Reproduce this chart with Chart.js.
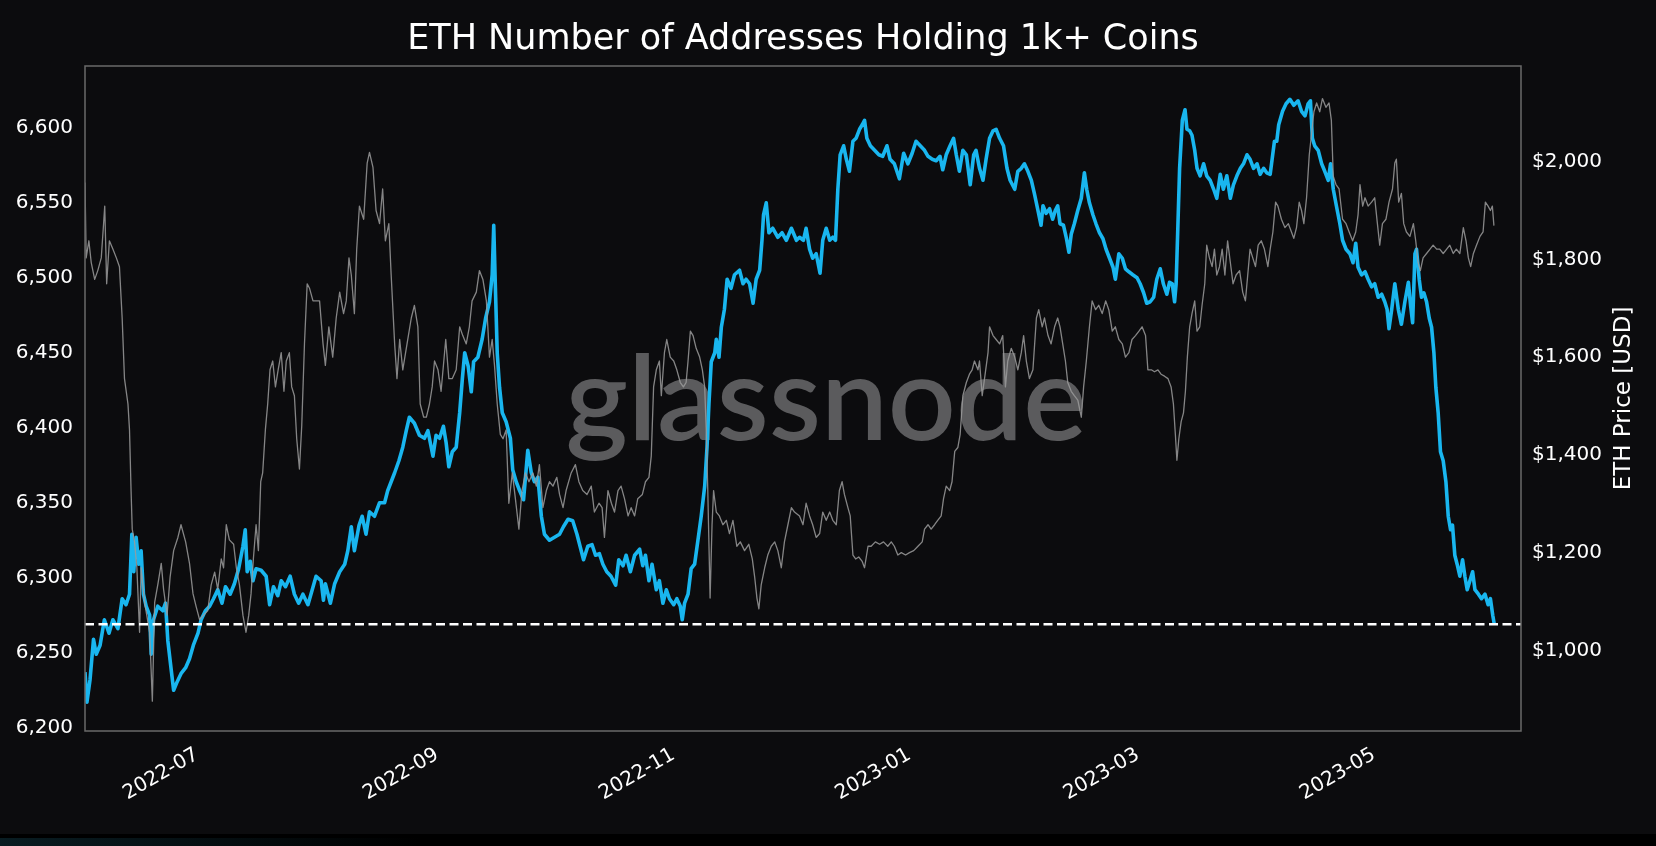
<!DOCTYPE html>
<html>
<head>
<meta charset="utf-8">
<title>ETH Number of Addresses Holding 1k+ Coins</title>
<script src="https://cdn.jsdelivr.net/npm/chart.js@4.4.1/dist/chart.umd.min.js"></script>
<style>
    html, body { margin: 0; padding: 0; background: #000; }
    canvas { display: block; }
</style>
</head>
<body>
<canvas id="addrChart" width="1656" height="846"></canvas>
<script>
var chartTitle = 'ETH Number of Addresses Holding 1k+ Coins';
var priceAxisTitle = 'ETH Price [USD]';
var watermarkText = 'glassnode';

// x values are days counted from seriesStart
var seriesStart = '2022-06-02';
var axisEnd = '2023-06-08';
var xTickLabels = ['2022-07', '2022-09', '2022-11', '2023-01', '2023-03', '2023-05'];
var countTicks = [6200, 6250, 6300, 6350, 6400, 6450, 6500, 6550, 6600];
var priceTicks = [1000, 1200, 1400, 1600, 1800, 2000];
var countRange = [6197.8, 6641.2];
var priceRange = [835, 2195.6];
var latestCount = [6269];

var addrDays = [
    0, 0.5, 1.3, 2.2, 2.9, 3.9, 5.0, 6.2, 7.2, 8.5,
    9.6, 10.6, 11.5, 12.1, 12.6, 13.2, 13.9, 14.5, 15.1, 15.8,
    16.7, 17.1, 17.7, 18.8, 20.1, 20.8, 21.4, 22.3, 22.9, 23.7,
    24.8, 26.0, 27.0, 28.0, 29.2, 30.0, 31.1, 32.2, 33.2, 34.3,
    35.4, 36.3, 37.5, 38.6, 39.7, 40.8, 41.4, 41.9, 42.7, 43.4,
    44.2, 45.5, 46.8, 47.7, 48.7, 49.8, 50.7, 51.8, 53.0, 54.1,
    55.2, 56.3, 57.6, 58.6, 59.7,
    61.0, 61.6, 62.1, 63.4, 64.5, 65.8, 67.1, 67.9, 68.8, 69.6,
    70.8, 71.6, 72.6, 73.5, 74.8, 76.1, 77.4, 78.2, 79.1, 80.0,
    81.1, 82.1, 83.0, 83.8, 85.1, 86.4, 87.7, 88.6, 89.9, 90.7,
    91.6, 92.6, 93.3, 94.0, 94.9, 95.9, 96.8, 97.5, 98.1, 99.0,
    99.8, 100.4, 101.5, 102.6, 103.5, 104.5, 105.2, 105.6, 106.0, 106.5,
    107.1, 107.8, 108.8, 109.9, 110.5, 111.4, 112.3, 113.3, 114.4, 115.3,
    116.1, 117.0, 117.9, 118.7, 120.0, 121.3,
    122.6, 123.6, 124.8, 126.0, 127.1, 127.9, 128.8, 129.9, 131.0, 131.9,
    132.9, 133.8, 134.8, 135.9, 137.1, 137.9, 139.0, 139.8, 140.9, 142.0,
    143.3, 144.1, 144.8, 145.7, 146.5, 147.6, 148.4, 149.3, 150.2, 151.0,
    152.1, 152.9, 153.8, 154.3, 154.9, 155.8, 156.6, 157.5, 158.3, 159.2,
    160.1, 160.7, 161.2, 161.8, 162.7, 163.1, 163.8, 164.4, 165.2, 165.9,
    166.9, 167.8, 169.1, 170.0, 170.8, 171.7, 172.6, 173.4, 174.3, 174.9,
    175.3, 176.0, 176.7, 177.7, 179.0, 180.1, 181.2, 182.5, 183.8,
    184.6, 185.6, 186.3, 187.2, 188.0, 188.9, 189.9, 190.6, 191.5, 192.4,
    193.2, 193.9, 194.5, 195.1, 196.0, 196.7, 197.5, 198.4, 199.2, 200.1,
    200.8, 201.4, 202.0, 202.9, 204.0, 205.1, 206.1, 207.2, 208.0, 209.1,
    210.4, 211.5, 212.6, 213.7, 214.7, 215.8, 216.9, 217.8, 218.9, 219.9,
    220.9, 221.6, 222.5, 223.5, 224.4, 225.1, 225.9, 226.8, 227.7, 228.7,
    229.6, 230.2, 231.1, 232.0, 232.8, 233.7, 234.6, 235.4, 236.3, 237.3,
    238.2, 239.0, 240.2, 241.0, 241.9, 242.7, 243.6, 244.5, 245.3, 246.2,
    247.0,
    247.5, 248.3, 249.2, 250.0, 250.7, 251.3, 251.9, 252.8, 253.5, 254.2,
    254.8, 255.6, 256.5, 257.4, 258.2, 258.8, 259.5, 260.4, 261.2, 262.1,
    263.0, 263.8, 264.7, 265.6, 266.2, 267.1, 268.0, 268.8, 269.7, 270.7,
    271.8, 272.6, 273.5, 274.3, 275.2, 276.1, 276.9, 277.8, 278.6, 279.5,
    280.2, 280.9, 281.5, 281.9, 282.3, 282.8, 283.5, 284.2, 284.7, 285.4,
    286.0, 286.7, 287.3, 288.1, 289.0, 289.8, 290.7, 291.6, 292.4, 293.3,
    294.1, 295.0, 295.9, 296.7, 297.6, 298.5, 299.3, 300.2, 301.0, 301.9,
    302.8, 303.6, 304.5, 305.3, 306.2, 306.7, 307.3, 307.9, 308.4,
    309.4, 310.3, 311.3, 312.3, 313.4, 314.3, 315.2, 316.0, 316.6, 317.1,
    317.7, 318.6, 319.5, 320.3, 321.2, 321.8, 322.5, 323.3, 324.2, 324.9,
    325.8, 326.8, 327.6, 328.3, 328.9, 329.8, 330.7, 331.5, 332.4, 333.2,
    334.1, 335.0, 335.8, 336.4, 336.9, 337.6, 338.4, 339.3, 340.1, 341.0,
    341.9, 342.5, 343.0, 343.6, 344.0, 344.7, 345.3, 345.9, 346.6, 347.3,
    347.9, 348.5, 349.0, 349.6, 350.2, 350.9, 351.6, 352.2, 352.8, 353.3,
    353.9, 354.5, 355.2, 355.9, 356.5, 357.1, 357.8, 358.5, 359.1, 360.0,
    360.8, 361.7, 362.5, 363.1, 363.7, 364.1
];
var addrCount = [
    6237, 6217, 6232, 6259, 6249, 6255, 6272, 6263, 6272, 6266,
    6286, 6282, 6289, 6329, 6304, 6327, 6309, 6318, 6289, 6281,
    6275, 6249, 6272, 6281, 6278, 6283, 6258, 6238, 6225, 6230,
    6236, 6240, 6246, 6255, 6263, 6272, 6278, 6281, 6286, 6292,
    6283, 6294, 6289, 6296, 6306, 6321, 6332, 6304, 6311, 6298,
    6306, 6305, 6301, 6282, 6294, 6288, 6298, 6294, 6301, 6289,
    6283, 6289, 6282, 6291, 6301,
    6298, 6285, 6296, 6283, 6296, 6304, 6309, 6318, 6334, 6318,
    6335, 6341, 6329, 6344, 6341, 6350, 6350, 6358, 6364, 6370,
    6378, 6387, 6398, 6407, 6403, 6395, 6393, 6398, 6381, 6395,
    6393, 6401, 6390, 6374, 6384, 6387, 6410, 6433, 6450, 6441,
    6424, 6444, 6447, 6459, 6473, 6484, 6502, 6535, 6496, 6450,
    6427, 6410, 6404, 6393, 6372, 6364, 6358, 6352, 6385, 6370,
    6364, 6367, 6341, 6329, 6325, 6327,
    6329, 6334, 6339, 6338, 6329, 6321, 6312, 6321, 6322, 6315,
    6316, 6309, 6304, 6301, 6295, 6312, 6308, 6315, 6304, 6315,
    6319, 6308, 6315, 6298, 6309, 6292, 6298, 6283, 6292, 6286,
    6282, 6286, 6281, 6272, 6283, 6289, 6306, 6309, 6324, 6341,
    6361, 6387, 6416, 6444, 6450, 6459, 6447, 6467, 6479, 6499,
    6493, 6502, 6505, 6496, 6499, 6496, 6483, 6499, 6505, 6525,
    6542, 6550, 6530, 6533, 6527, 6530, 6525, 6533, 6525,
    6527, 6525, 6533, 6519, 6513, 6516, 6503, 6525, 6533, 6525,
    6527, 6525, 6559, 6582, 6588, 6579, 6571, 6591, 6593, 6599,
    6602, 6605, 6593, 6588, 6585, 6582, 6581, 6588, 6579, 6576,
    6566, 6583, 6576, 6583, 6591, 6588, 6585, 6581, 6579, 6578,
    6581, 6572, 6582, 6588, 6593, 6582, 6571, 6585, 6582, 6562,
    6582, 6585, 6573, 6565, 6579, 6593, 6598, 6599, 6593, 6588,
    6573, 6565, 6559, 6571, 6573, 6576, 6571, 6565, 6556, 6545,
    6535,
    6548, 6543, 6546, 6539, 6545, 6548, 6536, 6535, 6527, 6517,
    6529, 6536, 6545, 6553, 6570, 6559, 6550, 6542, 6536, 6530,
    6526, 6519, 6513, 6507, 6499, 6516, 6513, 6506, 6504, 6502,
    6500, 6496, 6490, 6483, 6484, 6487, 6499, 6506, 6496, 6489,
    6497, 6496, 6484, 6496, 6530, 6573, 6605, 6612, 6599, 6598,
    6595, 6585, 6573, 6568, 6576, 6568, 6565, 6559, 6553, 6569,
    6559, 6568, 6553, 6562, 6568, 6573, 6576, 6582, 6579, 6573,
    6576, 6569, 6573, 6570, 6569, 6579, 6591, 6591, 6602,
    6611, 6616, 6619, 6615, 6618, 6611, 6608, 6616, 6618, 6593,
    6588, 6585, 6576, 6571, 6565, 6576, 6559, 6548, 6536, 6525,
    6519, 6516, 6510, 6523, 6507, 6502, 6504, 6499, 6494, 6496,
    6487, 6489, 6484, 6479, 6466, 6479, 6496, 6479, 6469, 6484,
    6497, 6481, 6470, 6516, 6519, 6499, 6487, 6490, 6484, 6473,
    6467, 6450, 6427, 6410, 6384, 6378, 6364, 6341, 6332, 6335,
    6315, 6309, 6301, 6312, 6301, 6292, 6298, 6304, 6292, 6289,
    6286, 6289, 6282, 6286, 6275, 6269
];

var priceDays = [
    0, 0.3, 1.0, 1.6, 2.5, 3.3, 4.2, 4.8, 5.1, 5.6,
    6.3, 7.2, 8.1, 8.9, 9.6, 10.2, 11.1, 11.5, 11.9, 12.2,
    12.8, 13.4, 14.1, 14.5, 15.4, 16.7, 17.4, 18.0, 18.8, 19.7,
    20.3, 21.2, 22.0, 22.9, 24.0, 24.8, 26.0, 27.0, 27.9, 28.7,
    29.6, 30.6, 31.7, 32.6, 33.5, 34.3, 35.2, 35.8, 36.5, 37.3,
    38.4, 39.1, 39.9, 40.8, 41.6, 42.3, 42.9, 43.5, 44.2, 44.8,
    45.4, 45.9, 46.6, 47.2, 47.8, 48.5, 49.2, 49.9, 50.7, 51.4,
    52.0, 52.8, 53.4, 54.1, 54.7, 55.4, 56.0, 56.7, 57.4, 58.0,
    58.9, 59.7,
    60.6, 61.5, 62.1, 63.0, 64.0, 64.9, 65.8, 66.8, 67.5, 68.2,
    68.8, 69.6, 70.2, 70.9, 72.0, 72.9, 73.5, 74.4, 75.2, 76.1,
    76.9, 77.6, 78.5, 79.1, 80.0, 80.6, 81.3, 82.1, 83.2, 84.3,
    85.1, 86.0, 86.6, 87.5, 88.2, 89.0, 89.7, 90.3, 91.2, 92.0,
    93.2, 94.0, 94.9, 95.9, 96.8, 97.6, 98.5, 99.3, 100.0, 101.1,
    101.9, 102.8, 103.7, 104.5, 105.2, 105.8, 106.5, 107.3, 108.0, 108.8,
    109.5, 110.4, 111.2, 112.1, 112.9, 113.8, 114.7, 115.7, 116.6, 117.4,
    118.3, 119.2, 120.0, 120.9, 121.9,
    122.6, 123.5, 124.3, 125.6, 126.7, 127.6, 128.6, 129.7, 130.8, 131.6,
    132.8, 133.6, 134.2, 135.1, 136.0, 136.8, 137.7, 138.5, 139.4, 140.3,
    141.1, 142.0, 142.8, 144.0, 144.8, 145.7, 146.3, 146.9, 147.6, 148.4,
    148.9, 149.7, 150.3, 151.2, 152.1, 152.9, 153.8, 154.6, 155.3, 155.8,
    156.4, 157.1, 157.9, 158.8, 159.5, 160.1, 160.5, 160.9, 161.5, 162.0,
    162.4, 163.1, 163.9, 164.8, 165.7, 166.5, 167.4, 168.4, 169.3, 170.4,
    171.5, 172.4, 173.0, 173.6, 174.1, 174.7, 175.6, 176.4, 177.3, 178.2,
    179.0, 179.9, 180.7, 181.6, 182.5, 183.3,
    184.6, 185.5, 186.3, 187.2, 188.0, 188.9, 189.8, 190.6, 191.5, 192.4,
    193.2, 194.1, 194.9, 195.6, 196.2, 197.1, 197.7, 198.4, 199.1, 199.9,
    200.8, 201.4, 202.3, 203.1, 204.2, 205.3, 206.3, 207.4, 208.3, 209.1,
    210.0, 210.9, 212.0, 213.0, 214.1, 215.2, 216.3, 216.9, 217.8, 218.6,
    219.5, 220.3, 221.2, 221.8, 222.5, 223.4, 224.0, 224.7, 225.5, 226.1,
    226.8, 227.7, 228.5, 229.2, 229.8, 230.7, 231.1, 231.8, 232.4, 233.3,
    233.7, 234.6, 235.4, 236.3, 237.1, 237.8, 238.4, 239.3, 240.2, 241.0,
    241.9, 242.5, 243.2, 244.0, 244.9, 245.8, 246.4,
    247.3, 247.9, 248.8, 249.6, 250.5, 251.3, 251.9, 252.6, 253.3, 253.9,
    254.8, 255.6, 256.5, 257.4, 258.0, 258.7, 259.5, 260.2, 261.1, 261.9,
    262.8, 263.7, 264.5, 265.4, 266.2, 267.1, 268.0, 268.8, 269.7, 270.5,
    271.4, 272.3, 273.1, 274.0, 274.6, 275.5, 276.3, 277.2, 278.0, 278.9,
    279.8, 280.6, 281.2, 281.7, 282.1, 282.6, 283.2, 283.8, 284.3, 284.8,
    285.4, 286.0, 286.7, 287.3, 288.0, 288.6, 289.3, 289.8, 290.5, 291.2,
    291.8, 292.4, 293.1, 293.8, 294.5, 295.2, 295.9, 296.6, 297.4, 298.3,
    299.1, 299.8, 300.4, 301.0, 301.7, 302.4, 303.1, 303.9, 304.7, 305.6,
    306.2, 306.9, 307.6, 308.2,
    309.1, 310.0, 310.9, 311.7, 312.3, 313.0, 313.7, 314.3, 314.9, 315.6,
    316.3, 316.9, 317.5, 318.2, 319.0, 319.7, 320.6, 321.4, 322.0, 322.5,
    323.2, 324.0, 324.9, 325.8, 326.6, 327.5, 328.3, 328.9, 329.4, 330.1,
    330.7, 331.5, 332.4, 333.2, 333.9, 334.5, 335.2, 336.1, 336.9, 337.8,
    338.4, 338.8, 339.4, 340.1, 340.7, 341.4, 342.3, 343.2, 343.8, 344.4,
    345.0, 345.7, 346.6, 347.5, 348.3, 349.2, 350.0, 350.9, 351.8, 352.6,
    353.5, 354.3, 355.2, 356.1, 356.8, 357.4, 358.0, 358.7, 359.5, 360.4,
    361.2, 361.8, 362.5, 363.1, 363.6, 364.0
];
var priceUsd = [
    1957, 1803, 1838, 1794, 1759, 1777, 1803, 1873, 1909, 1750,
    1838, 1821, 1803, 1785, 1680, 1556, 1504, 1451, 1327, 1248,
    1222, 1169, 1037, 1169, 1098, 1037, 896, 1098, 1134, 1178,
    1125, 1072, 1151, 1204, 1231, 1257, 1222, 1178, 1116, 1090,
    1063, 1072, 1081, 1134, 1160, 1125, 1187, 1169, 1257, 1226,
    1217, 1169, 1134, 1072, 1037, 1072, 1116, 1187, 1257, 1204,
    1345, 1363, 1451, 1504, 1574, 1592, 1539, 1574, 1609, 1530,
    1592, 1609, 1539, 1521, 1433, 1371, 1460, 1627, 1750, 1741,
    1715, 1715,
    1715, 1627, 1583, 1662, 1600, 1680, 1733, 1689, 1715, 1803,
    1768, 1689, 1821, 1909, 1882, 1997, 2019, 1988, 1900, 1873,
    1944, 1838, 1873, 1768, 1627, 1556, 1636, 1574, 1627, 1680,
    1706, 1662, 1504, 1477, 1477, 1504, 1539, 1592, 1574, 1530,
    1636, 1556, 1556, 1574, 1662, 1644, 1627, 1662, 1715, 1733,
    1777, 1759, 1715, 1600, 1636, 1583, 1504, 1442, 1433, 1451,
    1301, 1363, 1310, 1248, 1327, 1363, 1345, 1363, 1336, 1380,
    1292, 1327, 1345, 1336, 1354,
    1319, 1292, 1327, 1363, 1380, 1345, 1327, 1319, 1336, 1283,
    1301, 1292, 1231, 1327, 1301, 1283, 1327, 1336, 1310, 1275,
    1292, 1275, 1310, 1319, 1345, 1354, 1398, 1539, 1574, 1592,
    1521, 1609, 1636, 1600, 1592, 1574, 1548, 1539, 1548, 1592,
    1653, 1644, 1618, 1600, 1574, 1539, 1451, 1327, 1107, 1257,
    1327, 1283, 1275, 1257, 1266, 1239, 1266, 1213, 1222, 1204,
    1217, 1187, 1151, 1107, 1085, 1134, 1169, 1195, 1213, 1222,
    1204, 1169, 1222, 1257, 1292, 1283,
    1275, 1257, 1301, 1275, 1257, 1231, 1239, 1283, 1266, 1283,
    1266, 1257, 1327, 1345, 1319, 1292, 1275, 1195, 1187, 1191,
    1182, 1169, 1213, 1213, 1222, 1217, 1222, 1213, 1222, 1213,
    1195, 1200, 1195, 1200, 1204, 1213, 1222, 1248, 1257, 1248,
    1257, 1266, 1275, 1310, 1336, 1327, 1345, 1407, 1415, 1442,
    1521, 1548, 1565, 1574, 1592, 1574, 1592, 1521, 1556, 1609,
    1662, 1644, 1636, 1627, 1644, 1539, 1592, 1618, 1600, 1574,
    1609, 1644, 1592, 1556, 1574, 1680, 1697,
    1662, 1680, 1644, 1627, 1662, 1680, 1662, 1627, 1592, 1548,
    1530, 1521, 1512, 1477, 1539, 1592, 1662, 1715, 1697, 1706,
    1689, 1715, 1697, 1653, 1662, 1636, 1627, 1600, 1609, 1636,
    1644, 1653, 1662, 1644, 1574, 1574, 1570, 1574, 1565, 1561,
    1556, 1539, 1504, 1442, 1389, 1433, 1468, 1486, 1530, 1600,
    1662, 1689, 1715, 1653, 1662, 1706, 1750, 1829, 1803, 1785,
    1821, 1768, 1785, 1821, 1768, 1838, 1794, 1750, 1768, 1777,
    1733, 1715, 1768, 1821, 1803, 1785, 1829, 1838, 1821, 1785,
    1821, 1856, 1917, 1909,
    1882, 1865, 1873, 1856, 1843, 1865, 1917, 1900, 1873, 1926,
    2014, 2058, 2102, 2120, 2102, 2129, 2111, 2120, 2085, 1970,
    1953, 1944, 1882, 1873, 1856, 1838, 1856, 1891, 1953, 1909,
    1926, 1909, 1917, 1926, 1873, 1829, 1873, 1882, 1917, 1944,
    1997, 2005, 1917, 1935, 1873, 1856, 1847, 1873, 1838, 1794,
    1777, 1803, 1812, 1821, 1829, 1821, 1821, 1812, 1821, 1829,
    1812, 1821, 1812, 1865, 1838, 1803, 1785, 1812, 1829, 1847,
    1856, 1917, 1909, 1900, 1909, 1869
];

(function () {
    var DAY = 86400000;
    var FONT = '"DejaVu Sans", sans-serif';

    function dayOffset(iso) {
        var p = iso.split('-');
        var t = Date.UTC(+p[0], +p[1] - 1, p[2] ? +p[2] : 1);
        var s = seriesStart.split('-');
        return (t - Date.UTC(+s[0], +s[1] - 1, +s[2])) / DAY;
    }

    function toPoints(xs, ys) {
        var n = Math.min(xs.length, ys.length);
        var out = [];
        for (var i = 0; i < n; i++) {
            out.push({ x: xs[i], y: ys[i] });
        }
        return out;
    }

    var xMax = dayOffset(axisEnd);
    var xTickDays = xTickLabels.map(dayOffset);

    function fixedTicks(values) {
        return function (scale) {
            scale.ticks = values.map(function (v) { return { value: v }; });
        };
    }

    var decor = {
        id: 'decor',
        beforeDraw: function (chart) {
            var ctx = chart.ctx;
            ctx.save();
            ctx.fillStyle = '#0c0c0e';
            ctx.fillRect(0, 0, chart.width, chart.height);
            ctx.fillStyle = '#000000';
            ctx.fillRect(0, 834, chart.width, chart.height - 834);
            var g = ctx.createLinearGradient(0, 0, 420, 0);
            g.addColorStop(0, 'rgba(16,52,62,0.55)');
            g.addColorStop(1, 'rgba(16,52,62,0)');
            ctx.fillStyle = g;
            ctx.fillRect(0, 838, 420, 8);
            ctx.restore();
        },
        beforeDatasetsDraw: function (chart) {
            // logo watermark, sized to the reference box
            var a = chart.chartArea;
            var ctx = chart.ctx;
            ctx.save();
            ctx.font = '600 106px Lato, "Noto Sans", sans-serif';
            ctx.fillStyle = '#5b5b5d';
            ctx.textAlign = 'center';
            ctx.textBaseline = 'alphabetic';
            var w = ctx.measureText(watermarkText).width;
            ctx.translate((a.left + a.right) / 2 + 23, a.top + 374);
            ctx.scale(521 / w, 1.1);
            ctx.fillText(watermarkText, 0, 0);
            ctx.restore();
        },
        afterDatasetsDraw: function (chart) {
            var a = chart.chartArea;
            var ctx = chart.ctx;
            ctx.save();
            ctx.strokeStyle = '#6a6a6a';
            ctx.lineWidth = 1.5;
            ctx.strokeRect(a.left, a.top, a.right - a.left, a.bottom - a.top);
            ctx.restore();
        },
        afterDraw: function (chart) {
            var a = chart.chartArea;
            var ctx = chart.ctx;
            ctx.save();
            ctx.fillStyle = '#ffffff';
            ctx.font = '35px ' + FONT;
            ctx.textAlign = 'center';
            ctx.textBaseline = 'alphabetic';
            ctx.fillText(chartTitle, (a.left + a.right) / 2, 49);

            ctx.font = '23px ' + FONT;
            ctx.textBaseline = 'middle';
            ctx.translate(a.right + 103, (a.top + a.bottom) / 2);
            ctx.rotate(-Math.PI / 2);
            ctx.fillText(priceAxisTitle, 0, 0);
            ctx.restore();
        }
    };

    var tickFont = { family: FONT, size: 20 };

    function initAddrChart() {
        var canvas = document.getElementById('addrChart');
        if (!canvas || typeof Chart === 'undefined') {
            return;
        }

        new Chart(canvas, {
            type: 'line',
            data: {
                datasets: [
                    {
                        label: 'Latest',
                        data: toPoints([0, xMax], [latestCount[0], latestCount[0]]),
                        yAxisID: 'y',
                        borderColor: '#ffffff',
                        borderWidth: 2.5,
                        borderDash: [9, 4.5],
                        pointRadius: 0,
                        order: 0
                    },
                    {
                        label: 'ETH Price',
                        data: toPoints(priceDays, priceUsd),
                        yAxisID: 'y1',
                        borderColor: 'rgba(155,155,155,0.85)',
                        borderWidth: 1.3,
                        borderJoinStyle: 'round',
                        pointRadius: 0,
                        order: 1
                    },
                    {
                        label: 'Addresses 1k+',
                        data: toPoints(addrDays, addrCount),
                        yAxisID: 'y',
                        borderColor: '#19b6ef',
                        borderWidth: 3.6,
                        borderJoinStyle: 'round',
                        pointRadius: 0,
                        order: 2
                    }
                ]
            },
            options: {
                responsive: false,
                devicePixelRatio: 1,
                animation: false,
                layout: { padding: { top: 66, left: 0, right: 0, bottom: 0 } },
                plugins: {
                    legend: { display: false },
                    tooltip: { enabled: false },
                    title: { display: false }
                },
                scales: {
                    x: {
                        type: 'linear',
                        min: 0,
                        max: xMax,
                        grid: { display: false, drawTicks: false },
                        border: { display: false },
                        afterBuildTicks: fixedTicks(xTickDays),
                        afterFit: function (s) { s.height = 115; },
                        ticks: {
                            autoSkip: false,
                            minRotation: 30,
                            maxRotation: 30,
                            padding: 12,
                            color: '#ffffff',
                            font: tickFont,
                            callback: function (value) {
                                var i = xTickDays.indexOf(value);
                                return i >= 0 ? xTickLabels[i] : '';
                            }
                        }
                    },
                    y: {
                        position: 'left',
                        min: countRange[0],
                        max: countRange[1],
                        grid: { display: false, drawTicks: false },
                        border: { display: false },
                        afterBuildTicks: fixedTicks(countTicks),
                        afterFit: function (s) { s.width = 85; },
                        ticks: {
                            padding: 12,
                            color: '#ffffff',
                            font: tickFont,
                            callback: function (v) { return v.toLocaleString('en-US'); }
                        }
                    },
                    y1: {
                        position: 'right',
                        min: priceRange[0],
                        max: priceRange[1],
                        grid: { display: false, drawTicks: false },
                        border: { display: false },
                        afterBuildTicks: fixedTicks(priceTicks),
                        afterFit: function (s) { s.width = 135; },
                        ticks: {
                            padding: 11,
                            color: '#ffffff',
                            font: tickFont,
                            callback: function (v) { return '$' + v.toLocaleString('en-US'); }
                        }
                    }
                }
            },
            plugins: [decor]
        });
    }

    if (document.readyState === 'loading') {
        document.addEventListener('DOMContentLoaded', initAddrChart);
    } else {
        initAddrChart();
    }
})();
</script>
</body>
</html>
